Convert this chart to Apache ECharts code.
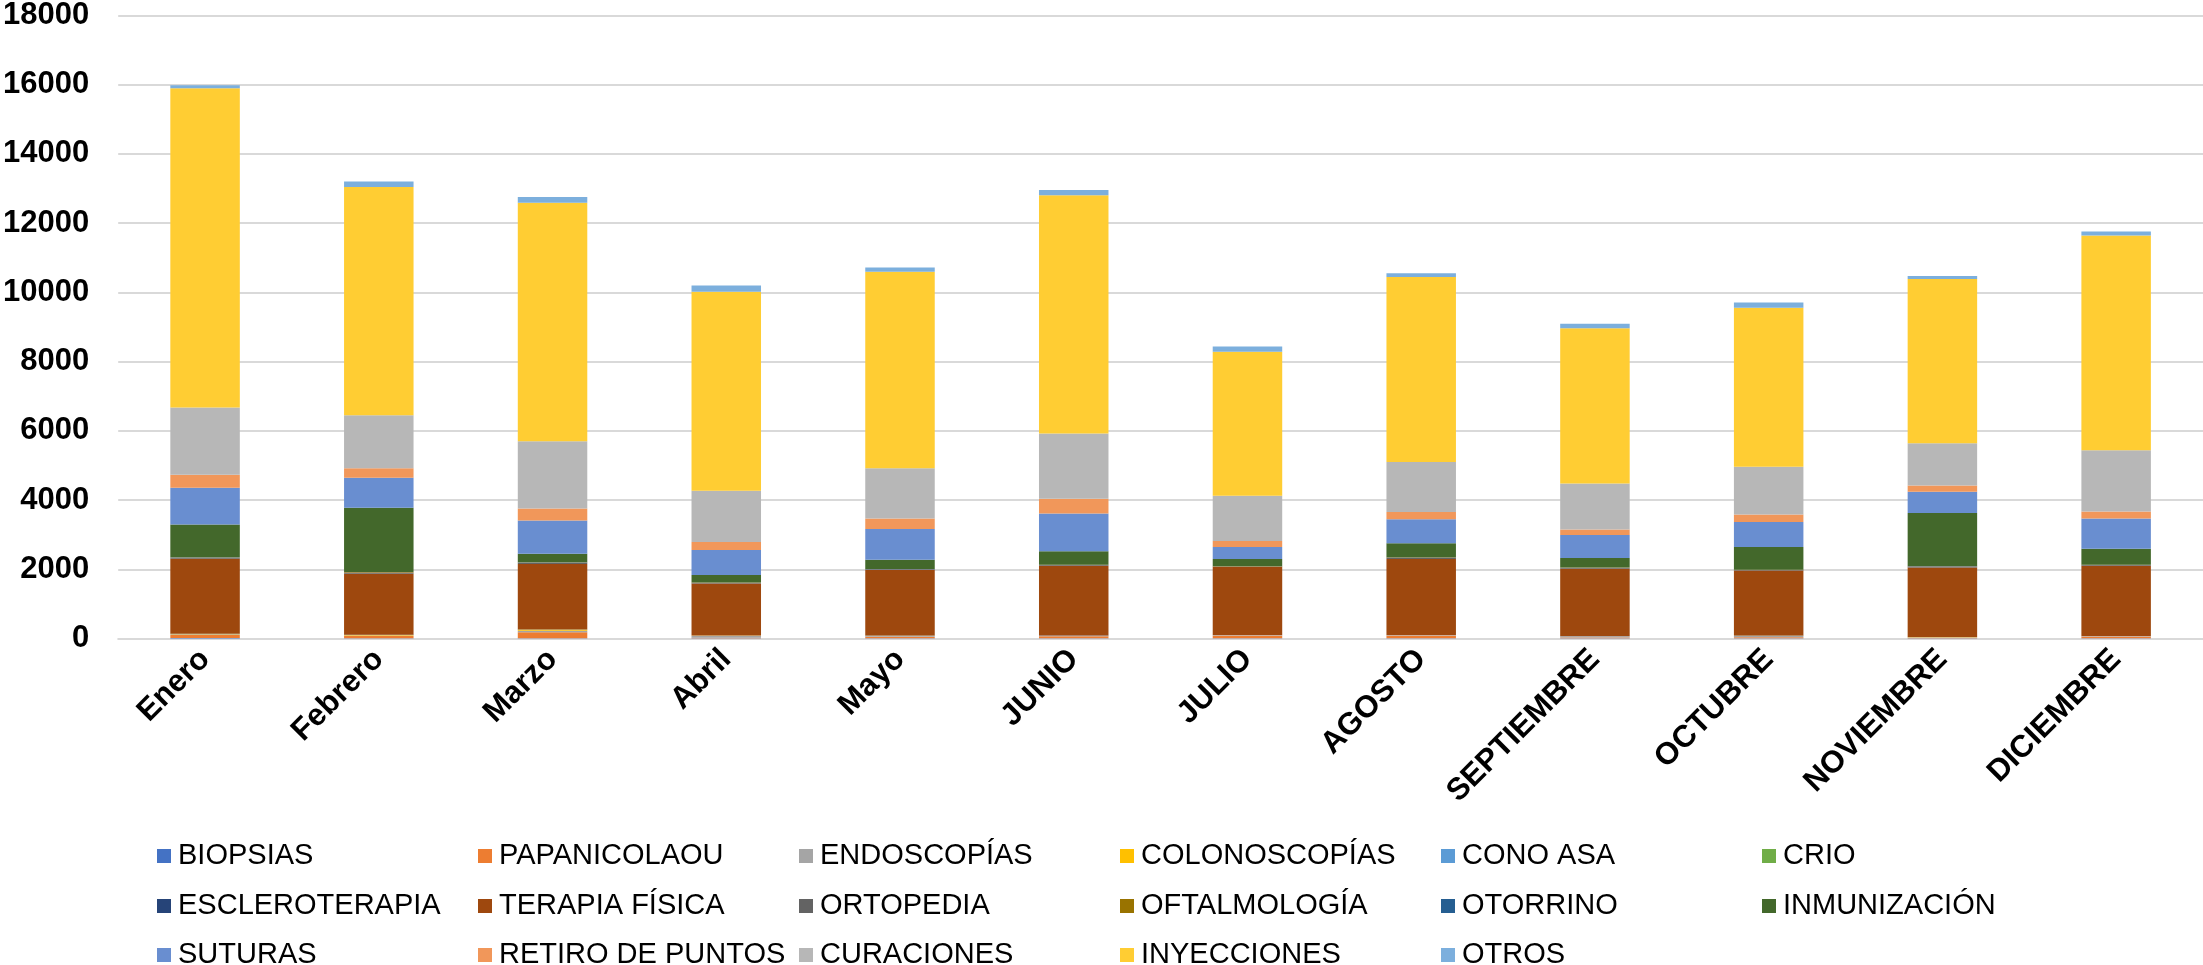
<!DOCTYPE html>
<html>
<head>
<meta charset="utf-8">
<script src="https://cdn.jsdelivr.net/npm/echarts@6/dist/echarts.min.js"></script>
<style>
html,body{margin:0;padding:0;background:#fff;}
#chart{width:2203px;height:965px;}
</style>
</head>
<body>
<div id="chart"></div>
<script>
const categories = ['Enero','Febrero','Marzo','Abril','Mayo','JUNIO','JULIO','AGOSTO','SEPTIEMBRE','OCTUBRE','NOVIEMBRE','DICIEMBRE'];
const yTicks = [0,2000,4000,6000,8000,10000,12000,14000,16000,18000];

const seriesNames = ['BIOPSIAS','PAPANICOLAOU','ENDOSCOPÍAS','COLONOSCOPÍAS','CONO ASA','CRIO','ESCLEROTERAPIA','TERAPIA FÍSICA','ORTOPEDIA','OFTALMOLOGÍA','OTORRINO','INMUNIZACIÓN','SUTURAS','RETIRO DE PUNTOS','CURACIONES','INYECCIONES','OTROS'];
const seriesColors = ['#4472C4','#ED7D31','#A5A5A5','#FFC000','#5B9BD5','#70AD47','#264478','#9E480E','#636363','#997300','#255E91','#43682B','#698ED0','#F1975A','#B7B7B7','#FFCD33','#7CAFDD'];

const biopsias       = [15,10,10,5,5,5,10,5,10,5,5,5];
const papanicolaou   = [85,60,174,15,45,60,80,80,20,30,20,50];
const endoscopias    = [20,20,40,60,20,15,10,15,30,35,10,15];
const colonoscopias  = [10,10,30,5,10,0,0,0,0,10,5,0];
const conoAsa        = [3,2,2,2,2,2,2,2,2,2,2,2];
const crio           = [2,2,2,1,1,1,1,1,1,1,1,1];
const escleroterapia = [1,1,1,1,1,1,1,1,1,1,1,1];
const terapiaFisica  = [2170,1765,1891,1499,1900,2017,1968,2190,1950,1881,2008,2027];
const ortopedia      = [25,35,35,20,15,20,10,35,28,14,28,20];
const oftalmologia   = [10,13,13,9,5,8,5,13,10,5,11,8];
const otorrino       = [3,3,3,2,2,2,2,2,2,2,2,2];
const inmunizacion   = [950,1855,251,213,270,387,207,406,271,658,1536,464];
const suturas        = [1063,870,956,724,889,1092,348,696,667,724,609,870];
const retiroPuntos   = [377,270,349,233,300,425,174,212,154,213,183,203];
const curaciones     = [1942,1536,1941,1478,1451,1891,1304,1440,1333,1382,1218,1768];
const inyecciones    = [9221,6591,6890,5749,5680,6880,4164,5350,4487,4593,4747,6210];
const otros          = [86,163,170,180,123,150,150,106,130,150,90,110];

const seriesValues = [biopsias,papanicolaou,endoscopias,colonoscopias,conoAsa,crio,escleroterapia,terapiaFisica,ortopedia,oftalmologia,otorrino,inmunizacion,suturas,retiroPuntos,curaciones,inyecciones,otros];

const FONT = '"Liberation Sans", Arial, sans-serif';
const chart = echarts.init(document.getElementById('chart'), null, {renderer:'canvas'});

const colLeft = [157,478,799,1120,1441,1762];
const rowTop = [841,891,940];
const legends = seriesNames.map((name, i) => ({
  data: [name],
  left: colLeft[i % 6],
  top: rowTop[Math.floor(i / 6)],
  icon: 'rect',
  itemWidth: 14,
  itemHeight: 14,
  itemGap: 0,
  padding: 0,
  selectedMode: false,
  textStyle: {fontFamily: FONT, fontSize: 29, color: '#000', lineHeight: 30, padding: [0,0,0,2]}
}));

const option = {
  backgroundColor: '#fff',
  animation: false,
  color: seriesColors,
  grid: {left: 116, right: 0, top: 14.7, bottom: 326.5, containLabel: false},
  legend: legends,
  xAxis: {
    type: 'category',
    data: categories,
    axisLine: {show: true, lineStyle: {color: '#D9D9D9', width: 2}},
    axisTick: {show: false},
    axisLabel: {interval: 0, rotate: 45, margin: 16, fontFamily: FONT, fontSize: 31, fontWeight: 'bold', color: '#000'}
  },
  yAxis: {
    type: 'value',
    min: yTicks[0],
    max: yTicks[yTicks.length - 1],
    interval: yTicks[1] - yTicks[0],
    axisLine: {show: false},
    axisTick: {show: false},
    splitLine: {lineStyle: {color: '#D9D9D9', width: 2}},
    axisLabel: {margin: 29, fontFamily: FONT, fontSize: 31, fontWeight: 'bold', color: '#000', formatter: v => String(v)}
  },
  series: seriesNames.map((name, i) => ({
    name: name,
    type: 'bar',
    stack: 'total',
    barCategoryGap: '60%',
    data: seriesValues[i],
    itemStyle: {color: seriesColors[i]}
  }))
};
chart.setOption(option);
</script>
</body>
</html>
